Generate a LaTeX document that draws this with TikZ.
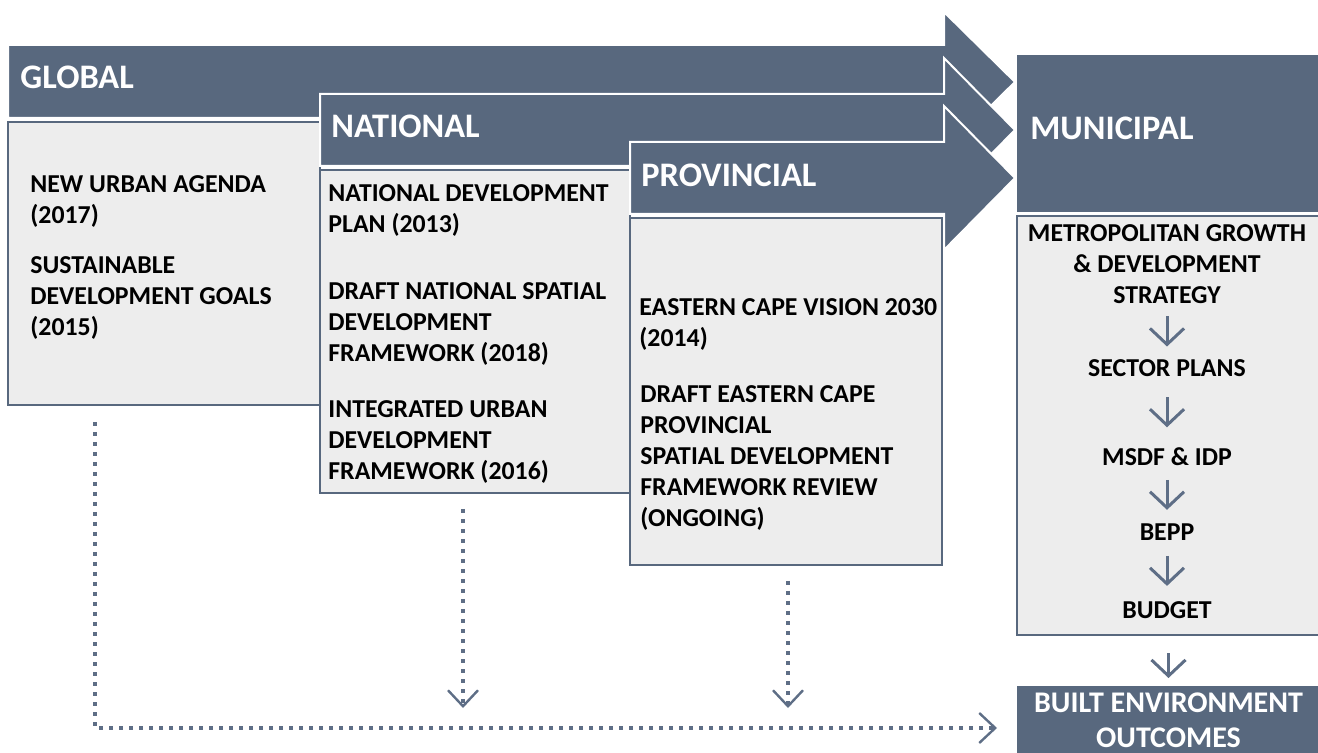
\documentclass[tikz,border=0pt]{standalone}
\usepackage{fontspec}
\setmainfont{Carlito}
\usetikzlibrary{positioning,calc,fit,arrows.meta}

\definecolor{slate}{RGB}{88,104,126}
\definecolor{panel}{RGB}{237,237,237}
\definecolor{inkline}{RGB}{94,110,134}

\begin{document}
\begin{tikzpicture}[
    x=0.5pt, y=-0.5pt,
    band/.style={fill=slate, draw=white, line width=1pt},
    panelbox/.style={draw=slate, fill=panel, line width=1pt, inner sep=0},
    head/.style={anchor=west, inner sep=0, text=white, font=\fontsize{17.2}{20}\selectfont\bfseries},
    item/.style={anchor=north west, inner sep=0, align=left, font=\fontsize{12.9}{15.5}\selectfont\bfseries},
    mitem/.style={inner sep=0, align=center, font=\fontsize{12.9}{15.5}\selectfont\bfseries},
    down/.style={-{Straight Barb[length=8pt, width=17pt]}, line width=1.5pt, color=inkline},
    dotarr/.style={-{Straight Barb[length=8pt, width=15pt, line width=1.2pt]}, line width=2pt, dash pattern=on 2pt off 3pt, color=inkline}
  ]
    \useasboundingbox (0,0) rectangle (1318,753);

    % global level
    \path[band] (8,45) -- (944,45) -- (944,12) -- (1015,82) -- (944,152) -- (944,118) -- (8,118) -- cycle;
    \node[head] (global) at (20,77) {GLOBAL};
    \node[panelbox, fit={(8,122) (320,405)}] (gbox) {};
    \node[item] (nua) at (30,175.5) {NEW URBAN AGENDA\\(2017)};
    \node[item] (sdg) at (30,256.5) {SUSTAINABLE\\DEVELOPMENT GOALS\\(2015)};

    % national level
    \path[band] (320,94) -- (944,94) -- (944,58) -- (1015,130) -- (944,202) -- (944,166) -- (320,166) -- cycle;
    \node[head] (national) at (331,126) {NATIONAL};
    \node[panelbox, fit={(320,170) (630,493)}] (nbox) {};
    \node[item] (ndp) at (328,184.5) {NATIONAL DEVELOPMENT\\PLAN (2013)};
    \node[item] (nsdf) at (328,282.5) {DRAFT NATIONAL SPATIAL\\DEVELOPMENT\\FRAMEWORK (2018)};
    \node[item] (iudf) at (328,400.5) {INTEGRATED URBAN\\DEVELOPMENT\\FRAMEWORK (2016)};

    % provincial level
    \path[band] (630,142) -- (944,142) -- (944,106) -- (1015,178) -- (944,250) -- (944,214) -- (630,214) -- cycle;
    \node[head] (provincial) at (641,175) {PROVINCIAL};
    \node[panelbox, fit={(630,218) (942,565)}] (pbox) {};
    \node[item] (ecv) at (639,298.5) {EASTERN CAPE VISION 2030\\(2014)};
    \node[item] (psdf) at (640,385.5) {DRAFT EASTERN CAPE\\PROVINCIAL\\SPATIAL DEVELOPMENT\\FRAMEWORK REVIEW\\(ONGOING)};

    % municipal level
    \node[fill=slate, inner sep=0, fit={(1017,55) (1320,212)}] (mhead) {};
    \node[head] (municipal) at (1030,128) {MUNICIPAL};
    \node[panelbox, fit={(1017,216) (1320,635)}] (mbox) {};
    \node[mitem] (mgds) at (1167,264) {METROPOLITAN GROWTH\\\& DEVELOPMENT\\STRATEGY};
    \node[mitem] (sector) at (1167,368) {SECTOR PLANS};
    \node[mitem] (msdf) at (1167,457) {MSDF \& IDP};
    \node[mitem] (bepp) at (1167,532) {BEPP};
    \node[mitem] (budget) at (1167,610) {BUDGET};

    \draw[down] ($(mgds.south)!.5!(sector.north)$) ++(0,-15) -- ++(0,30);
    \draw[down] ($(sector.south)!.5!(msdf.north)$) ++(0,-15) -- ++(0,30);
    \draw[down] ($(msdf.south)!.5!(bepp.north)$) ++(0,-15) -- ++(0,30);
    \draw[down] ($(bepp.south)!.5!(budget.north)$) ++(0,-15) -- ++(0,30);

    % outcomes
    \node[fill=slate, anchor=north, minimum width=151.5pt, minimum height=34pt, inner sep=0,
      text=white, align=center, font=\fontsize{15}{17.5}\selectfont\bfseries] (built) at (1168.5,686) {BUILT ENVIRONMENT\\OUTCOMES};
    \draw[down, shorten <=8.5pt, shorten >=4pt] (mbox.south) -- (built.north);

    % dotted links down to the outcomes
    \coordinate (gturn) at (95,728);
    \coordinate (gend) at (997,728);
    \coordinate (nend) at (463,708);
    \coordinate (pend) at (788,708);
    \draw[dotarr, shorten <=8pt] (gbox.south -| gturn) -- (gturn) -- (gend);
    \draw[dotarr, shorten <=7.5pt] (nbox.south -| nend) -- (nend);
    \draw[dotarr, shorten <=7.5pt] (pbox.south -| pend) -- (pend);
  \end{tikzpicture}
\end{document}
